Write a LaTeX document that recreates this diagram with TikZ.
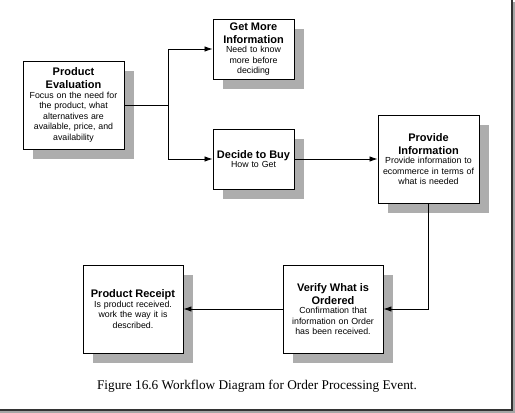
\documentclass[tikz,border=0pt]{standalone}
\usepackage{fontspec}
\setmainfont{Liberation Serif}
\setsansfont{Liberation Sans}
\usetikzlibrary{arrows.meta,shadows}

\newcommand{\flowtitle}[1]{{\fontsize{11}{13}\selectfont\bfseries #1\par}\vspace{-1pt}}

\begin{document}
\begin{tikzpicture}[x=1pt,y=-1pt]

\tikzset{
  flow box/.style={
    draw,
    fill=white,
    line width=0.9pt,
    inner sep=2pt,
    align=center,
    font=\sffamily\fontsize{8.8}{10.5}\selectfont,
    minimum width=101pt,
    minimum height=88pt,
    text width=97pt,
    drop shadow={opacity=1,fill=black!32,shadow xshift=10pt,shadow yshift=-10pt},
  },
  small flow/.style={
    flow box,
    minimum width=81pt,
    minimum height=60pt,
    text width=77pt,
  },
  flow arrow/.style={
    line width=0.8pt,
    -{Latex[length=8pt,width=5.5pt]},
  }
}

\useasboundingbox (0,0) rectangle (515,413);

% Left column
\node[flow box] (eval) at (73.5,105) {\flowtitle{Product\\Evaluation}Focus on the need for\\the product, what\\alternatives are\\available, price, and\\availability};

% Middle column
\node[small flow] (more) at (253.5,49) {\flowtitle{Get More\\Information}Need to know\\more before\\deciding};
\node[small flow] (buy) at (253.5,159) {\flowtitle{Decide to Buy}How to Get};

% Right column
\node[flow box] (provide) at (428.5,159) {\flowtitle{Provide\\Information}Provide information to\\ecommerce in terms of\\what is needed};

% Bottom row
\node[flow box, minimum width=100pt, text width=96pt] (verify) at (333,309) {\flowtitle{Verify What is\\Ordered}Confirmation that\\information on Order\\has been received.};
\node[flow box, minimum width=100pt, text width=96pt] (receipt) at (133,309) {\flowtitle{Product Receipt}Is product received.\\work the way it is\\described.};

% Edges
\coordinate (split) at (168,105);
\draw[line width=0.8pt] (eval.east) -- (split);
\draw[flow arrow] (split) |- (more.west);
\draw[flow arrow] (split) |- (buy.west);
\draw[flow arrow] (buy.east) -- (provide.west);
\draw[flow arrow] (provide.south) |- (verify.east);
\draw[flow arrow] (verify.west) -- (receipt.east);

% Caption
\node[font=\fontsize{13.3}{15}\selectfont] (caption) at (257,386) {Figure 16.6 Workflow Diagram for Order Processing Event.};

% Frame
\fill[black!35] (0,411) rectangle (515,413);
\fill[black!35] (513,2) rectangle (515,413);
\draw[black!80, line width=1.2pt] (0,410) -- (512,410) -- (512,0);

\end{tikzpicture}
\end{document}
